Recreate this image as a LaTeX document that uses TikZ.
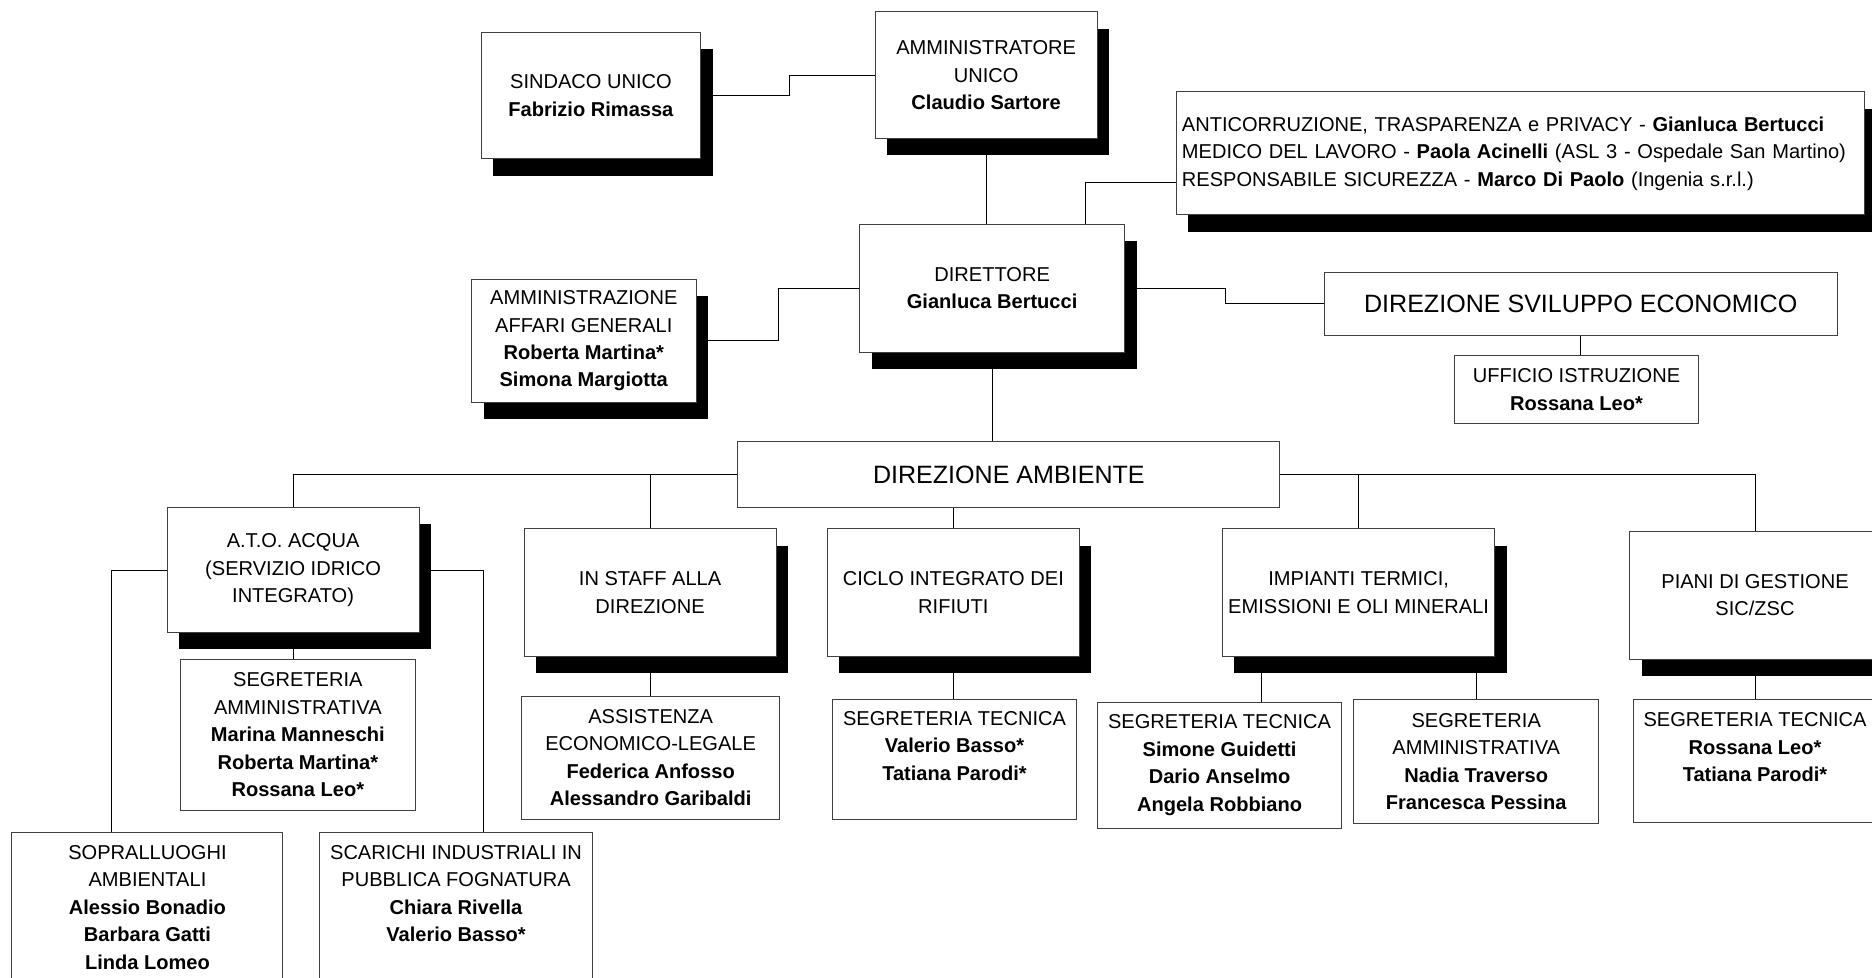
\documentclass[tikz,border=0pt]{standalone}
\usepackage{fontspec}
\setmainfont{Liberation Sans}
\usetikzlibrary{shadows,backgrounds}

\begin{document}
\begin{tikzpicture}[x=1pt,y=-1pt]
    \tikzstyle{box}=[draw=black!75, fill=white, line width=0.8pt, align=center, inner sep=0pt, font=\fontsize{16.8}{23}\selectfont]
    \tikzstyle{shadowbox}=[box, drop shadow={shadow xshift=10pt, shadow yshift=-14pt, fill=black, opacity=1}]
    \tikzstyle{bigbox}=[box, font=\fontsize{21}{25}\selectfont]
    \tikzstyle{link}=[draw=black, line width=0.8pt]
    \useasboundingbox (0,0) rectangle (1568,819);
    % vertice
    \node[shadowbox, minimum width=184, minimum height=106] (sindaco) at (495,80) {SINDACO UNICO\\\textbf{Fabrizio Rimassa}};
    \node[shadowbox, minimum width=186, minimum height=106] (amm) at (826,63) {AMMINISTRATORE\\UNICO\\\textbf{Claudio Sartore}};
    \node[shadowbox, minimum height=103, text width=567, inner xsep=5pt, align=left] (anticorr) at (1273.5,128.5) {ANTICORRUZIONE, TRASPARENZA e PRIVACY - \textbf{Gianluca Bertucci}\\MEDICO DEL LAVORO - \textbf{Paola Acinelli} (ASL 3 - Ospedale San Martino)\\RESPONSABILE SICUREZZA - \textbf{Marco Di Paolo} (Ingenia s.r.l.)};
    \node[shadowbox, minimum width=222, minimum height=107] (dir) at (831,241.5) {DIRETTORE\\\textbf{Gianluca Bertucci}};
    \node[shadowbox, minimum width=188, minimum height=103] (ammin) at (489,285.5) {AMMINISTRAZIONE\\AFFARI GENERALI\\\textbf{Roberta Martina*}\\\textbf{Simona Margiotta}};
    \node[bigbox, minimum width=430, minimum height=53] (svil) at (1324,254.5) {DIREZIONE SVILUPPO ECONOMICO};
    \node[box, minimum width=205, minimum height=57] (uff) at (1320.5,326.5) {UFFICIO ISTRUZIONE\\\textbf{Rossana Leo*}};
    \node[bigbox, minimum width=454, minimum height=55] (amb) at (845,397.5) {DIREZIONE AMBIENTE};
    % uffici della direzione ambiente
    \node[shadowbox, minimum width=211, minimum height=105] (ato) at (245.5,477.5) {A.T.O. ACQUA\\(SERVIZIO IDRICO\\INTEGRATO)};
    \node[box, minimum width=197, minimum height=127] (segato) at (249.5,615.5) {SEGRETERIA\\AMMINISTRATIVA\\\textbf{Marina Manneschi}\\\textbf{Roberta Martina*}\\\textbf{Rossana Leo*}};
    \node[box, minimum width=227, minimum height=126] (sopr) at (123.5,760) {SOPRALLUOGHI\\AMBIENTALI\\\textbf{Alessio Bonadio}\\\textbf{Barbara Gatti}\\\textbf{Linda Lomeo}};
    \node[box, minimum width=228, minimum height=126] (scar) at (382,760) {SCARICHI INDUSTRIALI IN\\PUBBLICA FOGNATURA\\\textbf{Chiara Rivella}\\\textbf{Valerio Basso*}\\\mbox{}};
    \node[shadowbox, minimum width=211, minimum height=107] (staff) at (544.5,496.5) {IN STAFF ALLA\\DIREZIONE};
    \node[box, minimum width=216, minimum height=103] (assist) at (545,634.5) {ASSISTENZA\\ECONOMICO-LEGALE\\\textbf{Federica Anfosso}\\\textbf{Alessandro Garibaldi}};
    \node[shadowbox, minimum width=211, minimum height=107] (ciclo) at (798.5,496.5) {CICLO INTEGRATO DEI\\RIFIUTI};
    \node[box, minimum width=205, minimum height=100] (segcic) at (799.5,636) {SEGRETERIA TECNICA\\\textbf{Valerio Basso*}\\\textbf{Tatiana Parodi*}\\\mbox{}};
    \node[shadowbox, minimum width=228, minimum height=107] (imp) at (1138,496.5) {IMPIANTI TERMICI,\\EMISSIONI E OLI MINERALI};
    \node[box, minimum width=205, minimum height=106] (segimp) at (1021.5,641) {SEGRETERIA TECNICA\\\textbf{Simone Guidetti}\\\textbf{Dario Anselmo}\\\textbf{Angela Robbiano}};
    \node[box, minimum width=205, minimum height=104] (ammimp) at (1236.5,638) {SEGRETERIA\\AMMINISTRATIVA\\\textbf{Nadia Traverso}\\\textbf{Francesca Pessina}};
    \node[shadowbox, minimum width=210, minimum height=107] (piani) at (1470,498.5) {PIANI DI GESTIONE\\SIC/ZSC};
    \node[box, minimum width=204, minimum height=103] (segpia) at (1470,637.5) {SEGRETERIA TECNICA\\\textbf{Rossana Leo*}\\\textbf{Tatiana Parodi*}\\\mbox{}};
    % collegamenti
    \begin{scope}[on background layer]
    \draw[link] (sindaco.east) -- ++(74,0) |- (amm.west);
    \draw[link] (amm.south) -- (amm.south |- dir.north);
    \draw[link] ([xshift=78pt]dir.north) |- ([yshift=-24.5pt]anticorr.west);
    \draw[link] (ammin.east) -- ++(69,0) |- (dir.west);
    \draw[link] (dir.east) -- ++(84,0) |- (svil.west);
    \draw[link] (svil.south) -- (svil.south |- uff.north);
    \draw[link] (dir.south) -- (dir.south |- amb.north);
    \draw[link] (amb.west) -| (ato.north);
    \draw[link] (staff.north) -- (staff.north |- amb.west);
    \draw[link] (ciclo.north) -- (ciclo.north |- amb.south);
    \draw[link] (amb.east) -| (piani.north);
    \draw[link] (imp.north) -- (imp.north |- amb.east);
    \draw[link] (ato.west) -| ([xshift=-30.5pt]sopr.north);
    \draw[link] (ato.east) -| ([xshift=23pt]scar.north);
    \draw[link] (ato.south) -- (ato.south |- segato.north);
    \draw[link] (staff.south) -- (staff.south |- assist.north);
    \draw[link] (ciclo.south) -- (ciclo.south |- segcic.north);
    \draw[link] ([xshift=-81pt]imp.south) -- ([xshift=-81pt]imp.south |- segimp.north);
    \draw[link] (ammimp.north) -- (ammimp.north |- imp.south);
    \draw[link] (piani.south) -- (piani.south |- segpia.north);
    \end{scope}
\end{tikzpicture}
\end{document}
